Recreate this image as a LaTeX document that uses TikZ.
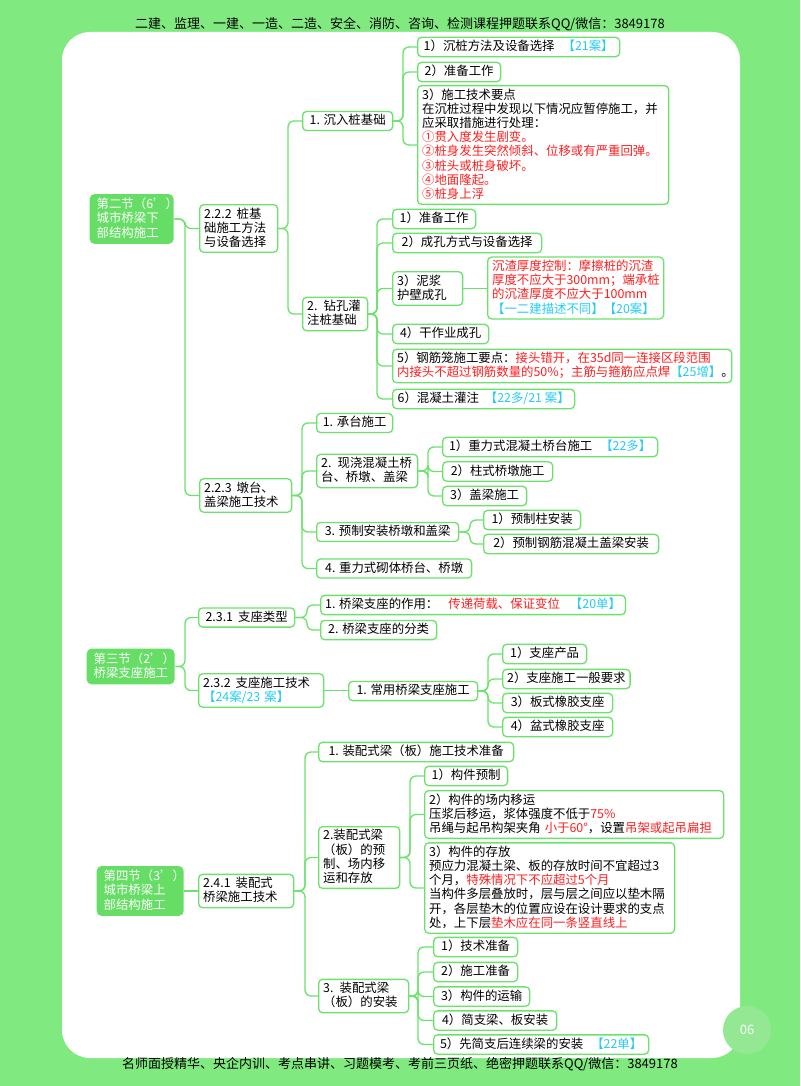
\documentclass[tikz,border=0pt]{standalone}
\usepackage{fontspec}
\setmainfont{Noto Sans CJK SC}
\usetikzlibrary{calc}
\setlength{\parindent}{0pt}
\definecolor{lg}{HTML}{6BE36B}
\definecolor{rootg}{HTML}{66DE66}
\definecolor{bgg}{HTML}{80EA80}
\definecolor{rd}{HTML}{FF1F1F}
\definecolor{cy}{HTML}{25CCF2}
\newcommand\fs{\fontsize{12.4}{14.2}\selectfont}
\newcommand\stt{\rule[-2.9pt]{0pt}{11.3pt}}
\newcommand\hr[1]{\textcolor{rd}{#1}}
\newcommand\hc[1]{\textcolor{cy}{#1}}
\newcommand\apos{\char"0027\relax}
\tikzset{
  box/.style={draw=lg, line width=1.3pt, rounded corners=4pt, fill=white,
    inner xsep=4.5pt, inner ysep=2.9pt, anchor=west, align=left, font=\fs,
    execute at begin node=\stt, execute at end node=\stt},
  root/.style={box, draw=none, fill=rootg, text=white, inner xsep=7pt, inner ysep=4pt, rounded corners=5pt},
  tw/.style={text width=#1pt},
  mw/.style={minimum width=#1pt},
  link/.style={draw=lg, line width=1.3pt, rounded corners=6pt},
}
\newcommand\lnk[3]{\draw[link] let \p1=(#1.east) in (\p1) -- (#3pt,\y1) |- (#2.west);}
\begin{document}
\begin{tikzpicture}[x=1pt,y=-1pt]
\useasboundingbox (0,0) rectangle (800,1086);
\fill[bgg] (0,0) rectangle (800,1086);
\fill[white, rounded corners=28pt] (62,32) rectangle (740,1058);
\node[font=\fontsize{13}{15}\selectfont] (hdr) at (400,24) {二建、监理、一建、一造、二造、安全、消防、咨询、检测课程押题联系QQ/微信：3849178};
\node[font=\fontsize{13}{15}\selectfont] (ftr) at (400,1064) {名师面授精华、央企内训、考点串讲、习题模考、考前三页纸、绝密押题联系QQ/微信：3849178};
\node[circle, fill=rootg!70!white, minimum size=48pt, text=white, font=\fontsize{13}{15}\selectfont] (pg) at (747,1030) {06};

% Section 2
\node[root, tw=70] (S2) at (89,219) {第二节（6\apos）\\城市桥梁下\\部结构施工};
\node[box, tw=69] (A1) at (199,228.5) {2.2.2\hspace{5pt}桩基\\础施工方法\\与设备选择};
\node[box, mw=90] (A1a) at (302,121) {1. 沉入桩基础};
\node[box, mw=202] (n1) at (417,47) {1）沉桩方法及设备选择\hspace{8pt}\hc{【21案】}};
\node[box, mw=83] (n2) at (417,72) {2）准备工作};
\node[box, tw=242] (n3) at (417,145) {3）施工技术要点\\在沉桩过程中发现以下情况应暂停施工，并\\应采取措施进行处理：\\\hr{①贯入度发生剧变。}\\\hr{②桩身发生突然倾斜、位移或有严重回弹。}\\\hr{③桩头或桩身破坏。}\\\hr{④地面隆起。}\\\hr{⑤桩身上浮}};
\node[box, tw=56] (A1b) at (302,314) {2. 钻孔灌\\注桩基础};
\node[box, mw=83] (m1) at (392,219) {1）准备工作};
\node[box, mw=149] (m2) at (392,243) {2）成孔方式与设备选择};
\node[box, tw=61] (m3) at (392,288.5) {3）泥浆\\护壁成孔};
\node[box, tw=167] (r) at (487,288) {\hr{沉渣厚度控制：摩擦桩的沉渣}\\\hr{厚度不应大于300mm；端承桩}\\\hr{的沉渣厚度不应大于100mm}\\\hc{【一二建描述不同】【20案】}};
\node[box, mw=96] (m4) at (392,334) {4）干作业成孔};
\node[box, tw=330] (m5) at (392,366) {5）钢筋笼施工要点：\hr{接头错开，在35d同一连接区段范围}\\\hr{内接头不超过钢筋数量的50\%；主筋与箍筋应点焊}\hc{【25增】}。};
\node[box, mw=182] (m6) at (392,399) {6）混凝土灌注\hspace{6pt}\hc{【22多/21 案】}};

\node[box, tw=83] (A2) at (199,495.5) {2.2.3\hspace{5pt}墩台、\\盖梁施工技术};
\node[box, mw=76] (A2a) at (316,423) {1. 承台施工};
\node[box, tw=92] (A2b) at (316,471) {2. 现浇混凝土桥\\台、桥墩、盖梁};
\node[box, mw=142] (A2c) at (316,532) {3. 预制安装桥墩和盖梁};
\node[box, mw=155] (A2d) at (316,568.5) {4. 重力式砌体桥台、桥墩};
\node[box, mw=215] (p1) at (442,447) {1）重力式混凝土桥台施工\hspace{8pt}\hc{【22多】}};
\node[box, mw=110] (p2) at (442,471.5) {2）柱式桥墩施工};
\node[box, mw=84] (p3) at (442,496) {3）盖梁施工};
\node[box, mw=97] (q1) at (483,520) {1）预制柱安装};
\node[box, mw=175] (q2) at (483,544) {2）预制钢筋混凝土盖梁安装};

% Section 3
\node[root, tw=74] (S3) at (86,666.5) {第三节（2\apos）\\桥梁支座施工};
\node[box, mw=96] (B1) at (198,617.5) {2.3.1\hspace{5pt}支座类型};
\node[box, mw=300] (B1a) at (320,605) {1. 桥梁支座的作用：\hspace{10pt}\hr{传递荷载、保证变位}\hspace{10pt}\hc{【20单】}};
\node[box, mw=116] (B1b) at (320,630) {2. 桥梁支座的分类};
\node[box, tw=116] (B2) at (198,690.5) {2.3.2\hspace{5pt}支座施工技术\\\hc{【24案/23 案】}};
\node[box, mw=129] (B2a) at (348,691) {1. 常用桥梁支座施工};
\node[box, mw=84] (b1) at (502,654) {1）支座产品};
\node[box, mw=126] (b2) at (502,679) {2）支座施工一般要求};
\node[box, mw=110] (b3) at (502,703) {3）板式橡胶支座};
\node[box, mw=110] (b4) at (502,727) {4）盆式橡胶支座};

% Section 4
\node[root, tw=73] (S4) at (96,891) {第四节（3\apos）\\城市桥梁上\\部结构施工};
\node[box, tw=86] (C1) at (198,891) {2.4.1\hspace{5pt}装配式\\桥梁施工技术};
\node[box, mw=195] (C1a) at (318,752) {1. 装配式梁（板）施工技术准备};
\node[box, tw=72] (C1b) at (318,857.5) {2.装配式梁\\（板）的预\\制、场内移\\运和存放};
\node[box, tw=81] (C1c) at (318,996) {3. 装配式梁\\（板）的安装};
\node[box, mw=83] (c1) at (424,776) {1）构件预制};
\node[box, tw=290] (c2) at (424,814.5) {2）构件的场内移运\\压浆后移运，浆体强度不低于\hr{75\%}\\\mbox{吊绳与起吊构架夹角\hspace{4pt}\hr{小于60°}，设置\hr{吊架或起吊扁担}}};
\node[box, tw=241] (c3) at (424,888) {3）构件的存放\\预应力混凝土梁、板的存放时间不宜超过3\\个月，\hr{特殊情况下不应超过5个月}\\当构件多层叠放时，层与层之间应以垫木隔\\开，各层垫木的位置应设在设计要求的支点\\处，上下层\hr{垫木应在同一条竖直线上}};
\node[box, mw=84] (d1) at (433,947) {1）技术准备};
\node[box, mw=84] (d2) at (433,972) {2）施工准备};
\node[box, mw=96] (d3) at (433,996.5) {3）构件的运输};
\node[box, mw=123] (d4) at (433,1020.5) {4）简支梁、板安装};
\node[box, mw=215] (d5) at (433,1044.5) {5）先简支后连续梁的安装\hspace{8pt}\hc{【22单】}};

% links
\lnk{S2}{A1}{185} \lnk{S2}{A2}{185}
\lnk{A1}{A1a}{288} \lnk{A1}{A1b}{288}
\lnk{A1a}{n1}{403} \lnk{A1a}{n2}{403} \lnk{A1a}{n3}{403}
\lnk{A1b}{m1}{377} \lnk{A1b}{m2}{377} \lnk{A1b}{m3}{377}
\lnk{A1b}{m4}{377} \lnk{A1b}{m5}{377} \lnk{A1b}{m6}{377}
\draw[link] (m3.east) -- (m3.east -| r.west);
\lnk{A2}{A2a}{302} \lnk{A2}{A2b}{302} \lnk{A2}{A2c}{302} \lnk{A2}{A2d}{302}
\lnk{A2b}{p1}{428} \lnk{A2b}{p2}{428} \lnk{A2b}{p3}{428}
\lnk{A2c}{q1}{470} \lnk{A2c}{q2}{470}
\lnk{S3}{B1}{185} \lnk{S3}{B2}{185}
\lnk{B1}{B1a}{307} \lnk{B1}{B1b}{307}
\draw[link] (B2.east) -- (B2.east -| B2a.west);
\lnk{B2a}{b1}{488} \lnk{B2a}{b2}{488} \lnk{B2a}{b3}{488} \lnk{B2a}{b4}{488}
\draw[link] (S4.east) -- (S4.east -| C1.west);
\lnk{C1}{C1a}{305} \lnk{C1}{C1b}{305} \lnk{C1}{C1c}{305}
\lnk{C1b}{c1}{410} \lnk{C1b}{c2}{410} \lnk{C1b}{c3}{410}
\lnk{C1c}{d1}{418} \lnk{C1c}{d2}{418} \lnk{C1c}{d3}{418} \lnk{C1c}{d4}{418} \lnk{C1c}{d5}{418}
\end{tikzpicture}
\end{document}
